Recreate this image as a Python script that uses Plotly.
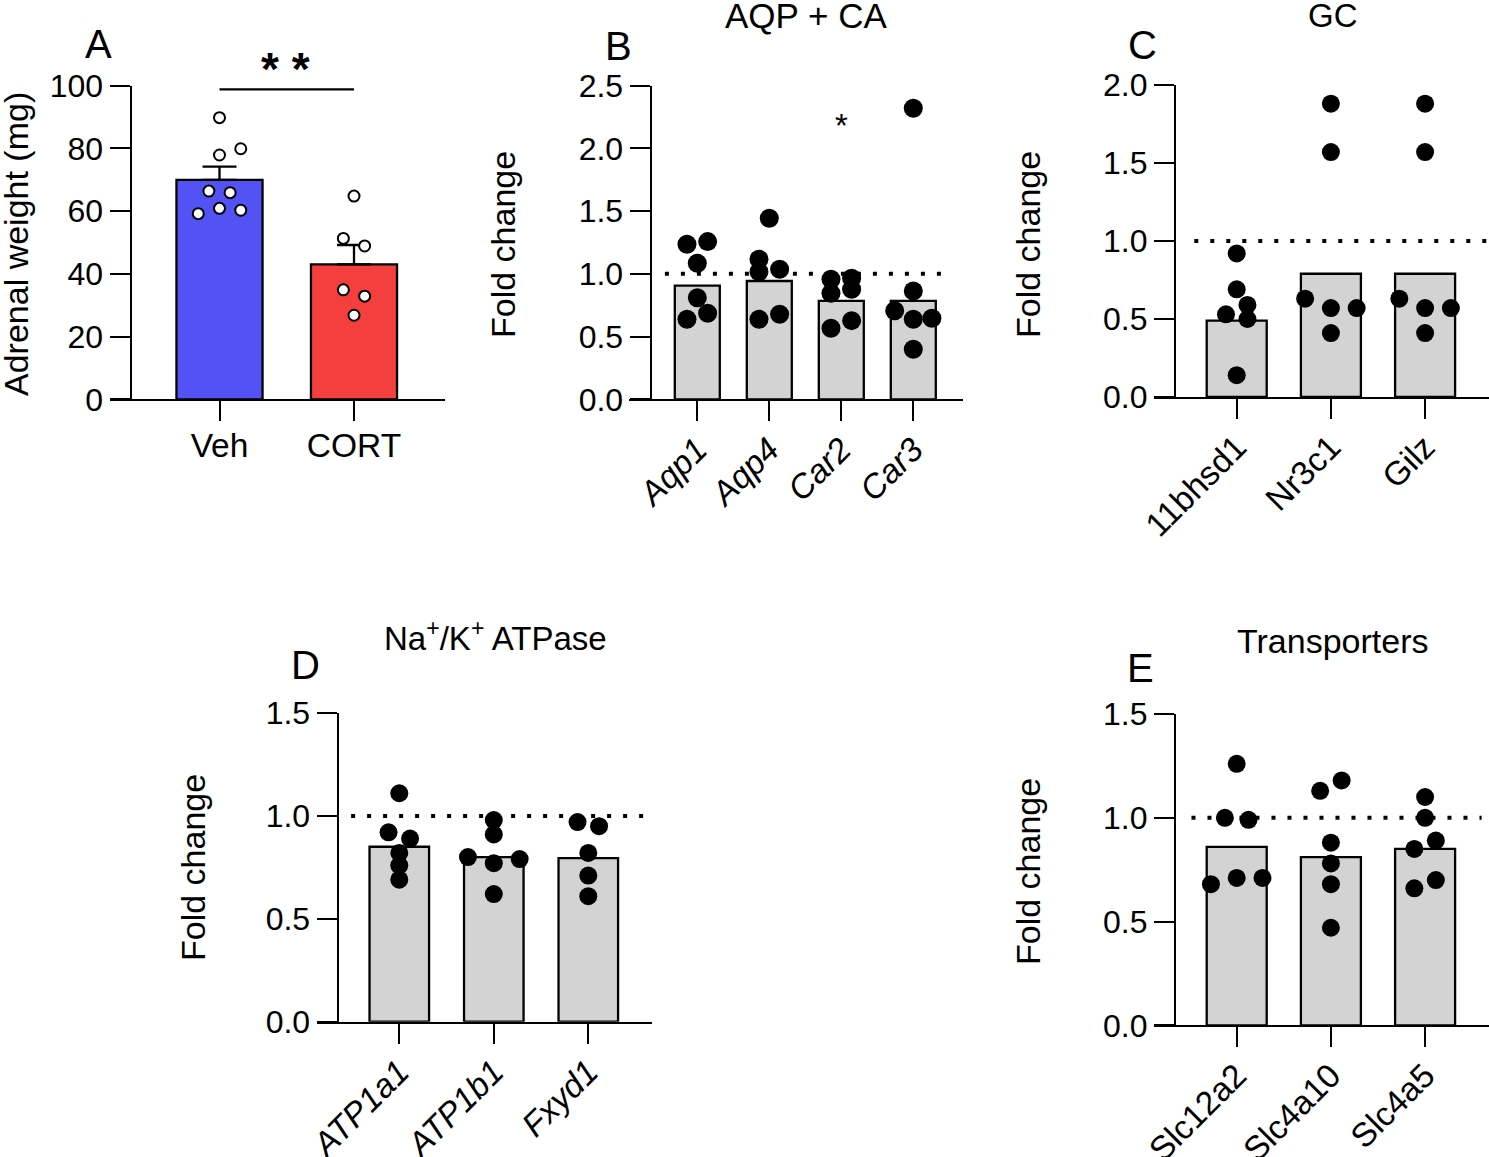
import plotly.graph_objects as go

# ------------------------------------------------------------------ data
# Panel A : adrenal weight
a_groups = ["Veh", "CORT"]
a_means = [70.0, 43.0]
a_sem = [4.2, 6.2]
a_veh = [89.8, 79.9, 77.9, 66.4, 65.9, 59.2, 60.9, 60.3]
a_cort = [64.8, 51.3, 48.9, 34.9, 32.9, 26.8]
a_yticks = [0, 20, 40, 60, 80, 100]

# Panel B : AQP + CA
b_genes = ["Aqp1", "Aqp4", "Car2", "Car3"]
b_bars = [0.906, 0.943, 0.784, 0.784]
b_aqp1 = [1.236, 1.257, 1.084, 0.810, 0.638, 0.686]
b_aqp4 = [1.443, 1.116, 1.017, 1.036, 0.638, 0.678]
b_car2 = [0.957, 0.965, 0.845, 0.877, 0.566, 0.627]
b_car3 = [2.320, 0.863, 0.706, 0.638, 0.646, 0.399]
b_yticks = [0.0, 0.5, 1.0, 1.5, 2.0, 2.5]

# Panel C : GC
c_genes = ["11bhsd1", "Nr3c1", "Gilz"]
c_bars = [0.49, 0.79, 0.79]
c_11bhsd1 = [0.92, 0.69, 0.59, 0.53, 0.50, 0.14]
c_nr3c1 = [1.88, 1.57, 0.63, 0.57, 0.57, 0.41]
c_gilz = [1.88, 1.57, 0.63, 0.57, 0.57, 0.41]
c_yticks = [0.0, 0.5, 1.0, 1.5, 2.0]

# Panel D : Na+/K+ ATPase
d_genes = ["ATP1a1", "ATP1b1", "Fxyd1"]
d_bars = [0.85, 0.80, 0.795]
d_atp1a1 = [1.11, 0.92, 0.89, 0.82, 0.76, 0.69]
d_atp1b1 = [0.98, 0.91, 0.80, 0.79, 0.77, 0.62]
d_fxyd1 = [0.97, 0.95, 0.82, 0.71, 0.61]
d_yticks = [0.0, 0.5, 1.0, 1.5]

# Panel E : Transporters
e_genes = ["Slc12a2", "Slc4a10", "Slc4a5"]
e_bars = [0.86, 0.81, 0.85]
e_slc12a2 = [1.26, 1.00, 0.99, 0.71, 0.71, 0.68]
e_slc4a10 = [1.18, 1.13, 0.88, 0.78, 0.68, 0.47]
e_slc4a5 = [1.10, 1.00, 0.89, 0.85, 0.70, 0.66]
e_yticks = [0.0, 0.5, 1.0, 1.5]

# swarm slots (layout of dots inside each column, in dot-widths)
a_veh_slot = [0, 1, 0, -0.5, 0.5, -1, 0, 1]
a_cort_slot = [0, -0.5, 0.5, -0.5, 0.5, 0]
b_slots = [[-0.5, 0.5, 0, 0, -0.5, 0.5],
           [0, -0.5, -0.5, 0.5, -0.5, 0.5],
           [-0.5, 0.5, -0.5, 0.5, -0.5, 0.5],
           [0, 0, -0.9, 0, 0.9, 0]]
c_slots = [[0, 0, 0.5, -0.5, 0.5, 0],
           [0, 0, -1.2, 0, 1.2, 0],
           [0, 0, -1.2, 0, 1.2, 0]]
d_slots = [[0, -0.5, 0.5, 0, 0, 0],
           [0, 0, -1.2, 1.2, 0, 0],
           [-0.5, 0.5, 0, 0, 0]]
e_slots = [[0, -0.55, 0.55, 0, 1.2, -1.2],
           [0.5, -0.5, 0, 0, 0, 0],
           [0, 0, 0.5, -0.5, 0.5, -0.5]]

# ------------------------------------------------------------------ style
W, H = 1489, 1157
FONT = "Liberation Sans, Arial, Helvetica, sans-serif"
LW = 2.3
GREY = "#d3d3d3"


def px(x):
    return x / W


def py(y):
    return 1 - y / H


panels = [
    dict(k="", xdom=(110, 445), ypos=130.7, ydom=(85.7, 399.3), c0=219.5, sp=134.5,
         yr=(0, 100), yt=a_yticks, fmt="d", labels=a_groups, italic=False, angle=0,
         bw=0.64, slot=0.158),
    dict(k="2", xdom=(629.3, 963.3), ypos=650.7, ydom=(85.7, 399.3), c0=697.3, sp=72,
         yr=(0, 2.5), yt=b_yticks, fmt=".1f", labels=b_genes, italic=True, angle=-45,
         bw=0.625, slot=0.287, dots=(-0.45, 3.55)),
    dict(k="3", xdom=(1154, 1489), ypos=1175, ydom=(85, 397), c0=1236.7, sp=94.2,
         yr=(0, 2.0), yt=c_yticks, fmt=".1f", labels=c_genes, italic=False, angle=-45,
         bw=0.637, slot=0.228, dots=(-0.45, 2.68)),
    dict(k="4", xdom=(316.7, 651.7), ypos=337.7, ydom=(713, 1021.7), c0=399.3, sp=94.5,
         yr=(0, 1.5), yt=d_yticks, fmt=".1f", labels=d_genes, italic=True, angle=-45,
         bw=0.63, slot=0.228, dots=(-0.51, 2.6)),
    dict(k="5", xdom=(1154, 1489), ypos=1175, ydom=(714, 1025.3), c0=1236.7, sp=94.2,
         yr=(0, 1.5), yt=e_yticks, fmt=".1f", labels=e_genes, italic=False, angle=-45,
         bw=0.637, slot=0.228, dots=(-0.48, 2.6)),
]

fig = go.Figure()
layout = dict(
    template="none",
    width=W, height=H,
    margin=dict(l=0, r=0, t=0, b=0, pad=0, autoexpand=False),
    paper_bgcolor="white", plot_bgcolor="white", showlegend=False,
    font=dict(family=FONT, size=32, color="black"),
)
shapes = []
annotations = []

for p in panels:
    k = p["k"]
    n = len(p["labels"])
    x0 = (p["xdom"][0] - p["c0"]) / p["sp"]
    x1 = (p["xdom"][1] - p["c0"]) / p["sp"]
    ticktext = [("<i>%s</i>" % t) if p["italic"] else t for t in p["labels"]]
    layout["xaxis" + k] = dict(
        domain=[px(p["xdom"][0]), px(p["xdom"][1])], range=[x0, x1],
        anchor="y" + k, showline=True, linewidth=LW, linecolor="black",
        ticks="outside", ticklen=20, tickwidth=LW, tickcolor="black",
        tickvals=list(range(n)), ticktext=ticktext, tickangle=p["angle"],
        ticklabelstandoff=-5,
        showgrid=False, zeroline=False, fixedrange=True, automargin=False,
        tickfont=dict(size=33.5, color="black", family=FONT),
    )
    layout["yaxis" + k] = dict(
        domain=[py(p["ydom"][1]), py(p["ydom"][0])], range=list(p["yr"]),
        anchor="free", position=px(p["ypos"]), showline=True, linewidth=LW,
        linecolor="black", ticks="outside", ticklen=20, tickwidth=LW,
        tickcolor="black", tickvals=p["yt"], tickformat=p["fmt"],
        showgrid=False, zeroline=False, fixedrange=True, automargin=False,
        tickfont=dict(size=32, color="black", family=FONT),
    )
    if "dots" in p:
        shapes.append(dict(type="line", xref="x" + k, yref="y" + k,
                           x0=p["dots"][0], x1=p["dots"][1], y0=1, y1=1,
                           layer="below",
                           line=dict(color="black", width=4, dash="4px,12px")))

# ---------------- panel A traces
pa = panels[0]
fig.add_trace(go.Bar(
    x=[0, 1], y=a_means, width=pa["bw"], xaxis="x", yaxis="y",
    marker=dict(color=["#5252f5", "#f53f3f"], line=dict(color="black", width=LW)),
    error_y=dict(type="data", symmetric=False, array=a_sem, arrayminus=[0, 0],
                 color="black", thickness=LW, width=17),
))
for i, (vals, slots) in enumerate([(a_veh, a_veh_slot), (a_cort, a_cort_slot)]):
    fig.add_trace(go.Scatter(
        x=[i + s * pa["slot"] for s in slots], y=vals, mode="markers",
        xaxis="x", yaxis="y", cliponaxis=False,
        marker=dict(size=11, color="white", line=dict(color="black", width=2)),
    ))
shapes.append(dict(type="line", xref="x", yref="y", x0=0, x1=1, y0=98.8, y1=98.8,
                   line=dict(color="black", width=LW)))

# ---------------- fold-change panels
fc = [
    (panels[1], b_bars, [b_aqp1, b_aqp4, b_car2, b_car3], b_slots, 19),
    (panels[2], c_bars, [c_11bhsd1, c_nr3c1, c_gilz], c_slots, 18),
    (panels[3], d_bars, [d_atp1a1, d_atp1b1, d_fxyd1], d_slots, 18),
    (panels[4], e_bars, [e_slc12a2, e_slc4a10, e_slc4a5], e_slots, 18),
]
for p, bars, groups, slots, msize in fc:
    k = p["k"]
    fig.add_trace(go.Bar(
        x=list(range(len(bars))), y=bars, width=p["bw"],
        xaxis="x" + k, yaxis="y" + k,
        marker=dict(color=GREY, line=dict(color="black", width=LW)),
    ))
    for i, (vals, sl) in enumerate(zip(groups, slots)):
        fig.add_trace(go.Scatter(
            x=[i + s * p["slot"] for s in sl], y=vals, mode="markers",
            xaxis="x" + k, yaxis="y" + k, cliponaxis=False,
            marker=dict(size=msize, color="black", line=dict(width=0)),
        ))

# ---------------- text
def txt(text, x, y, size, angle=0, **kw):
    annotations.append(dict(text=text, x=px(x), y=py(y), xref="paper", yref="paper",
                            showarrow=False, xanchor="center", yanchor="middle",
                            textangle=angle,
                            font=dict(family=FONT, size=size, color="black"), **kw))

# panel letters
txt("A", 98, 44, 40)
txt("B", 618, 46, 40)
txt("C", 1142, 45, 40)
txt("D", 305, 665, 40)
txt("E", 1140, 668, 40)
# titles
txt("AQP + CA", 806, 15, 35)
txt("GC", 1333, 15, 33)
txt("Na<sup>+</sup>/K<sup>+</sup> ATPase", 495, 636, 33)
txt("Transporters", 1332, 641, 34)
# y-axis titles
txt("Adrenal weight (mg)", 16, 244, 34, angle=-90)
txt("Fold change", 503, 245, 34, angle=-90)
txt("Fold change", 1028, 245, 34, angle=-90)
txt("Fold change", 193, 868, 34, angle=-90)
txt("Fold change", 1028, 872, 34, angle=-90)
# significance
txt("<b>* *</b>", 285, 69, 46)
txt("*", 841, 125, 33)

layout["shapes"] = shapes
layout["annotations"] = annotations
fig.update_layout(**layout)
fig.write_html(
    "out.html",
    config={"displayModeBar": False},
    post_script="document.body.style.margin='0px';document.body.style.overflow='hidden';",
)
